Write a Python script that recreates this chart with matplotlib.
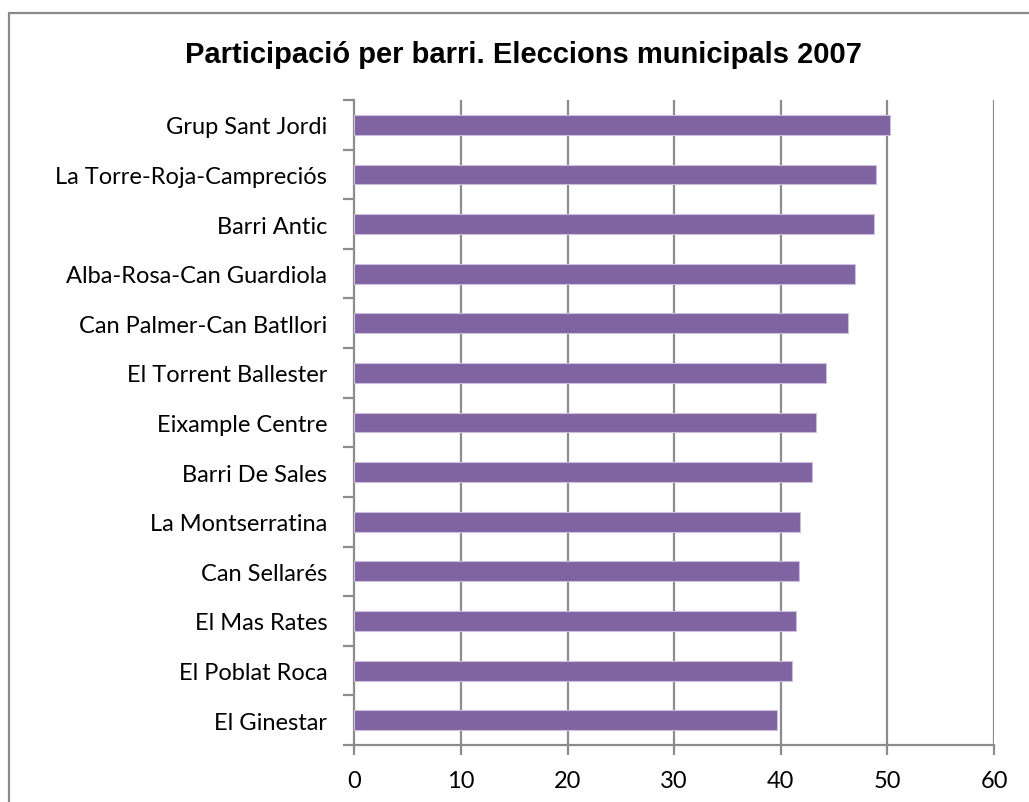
import matplotlib
matplotlib.use("Agg")
import matplotlib.pyplot as plt
import numpy as np
from matplotlib.patches import Rectangle

title = "Participació per barri. Eleccions municipals 2007"
categories = [
    "Grup Sant Jordi",
    "La Torre-Roja-Campreciós",
    "Barri Antic",
    "Alba-Rosa-Can Guardiola",
    "Can Palmer-Can Batllori",
    "El Torrent Ballester",
    "Eixample Centre",
    "Barri De Sales",
    "La Montserratina",
    "Can Sellarés",
    "El Mas Rates",
    "El Poblat Roca",
    "El Ginestar",
]
values = [50.2, 48.9, 48.7, 47.0, 46.3, 44.25, 43.3, 42.9, 41.85, 41.75, 41.4, 41.05, 39.65]
xticks = [0, 10, 20, 30, 40, 50, 60]

W, H = 1029, 803
fig = plt.figure(figsize=(W / 100, H / 100), dpi=100)
fig.patch.set_facecolor("white")

# outer chart border
fig.patches.append(Rectangle((9 / W, -0.05), 1.1, (H - 14) / H + 0.05, transform=fig.transFigure,
                             fill=False, edgecolor="#8a8a8a", linewidth=1.6))

left, right, top, bottom = 354.3, 994, 101, 746
ax = fig.add_axes([left / W, (H - bottom) / H, (right - left) / W, (bottom - top) / H])

n = len(categories)
y = np.arange(n)[::-1]
ax.barh(y, values, height=0.4, color="#8064A2", edgecolor="#cbbfdd", linewidth=0.8, zorder=3)

ax.set_xlim(0, 60)
ax.set_ylim(-0.5, n - 0.5)
ax.set_xticks(xticks)
ax.set_xticklabels([str(t) for t in xticks], fontsize=17, family="Lato")
ax.set_yticks(y)
ax.set_yticklabels(categories, fontsize=17, family="Lato")
ax.set_yticks(np.arange(-0.5, n, 1.0), minor=True)

gcol = "#8c8c8c"
for t in xticks[1:]:
    ax.axvline(t, color=gcol, linewidth=1.6, zorder=1)

for s in ["top", "right"]:
    ax.spines[s].set_visible(False)
for s in ["left", "bottom"]:
    ax.spines[s].set_color(gcol)
    ax.spines[s].set_linewidth(1.6)

ax.tick_params(axis="y", which="major", length=0, pad=19.5)
ax.tick_params(axis="y", which="minor", length=8, width=1.6, color=gcol, direction="out")
ax.tick_params(axis="x", which="major", length=7, width=1.6, color=gcol, direction="out", pad=11)

fig.text(523 / W, 1 - 55 / H, title, ha="center", va="center", fontsize=21,
         fontweight="bold", family="Liberation Sans")

fig.savefig("out.png", dpi=100)
